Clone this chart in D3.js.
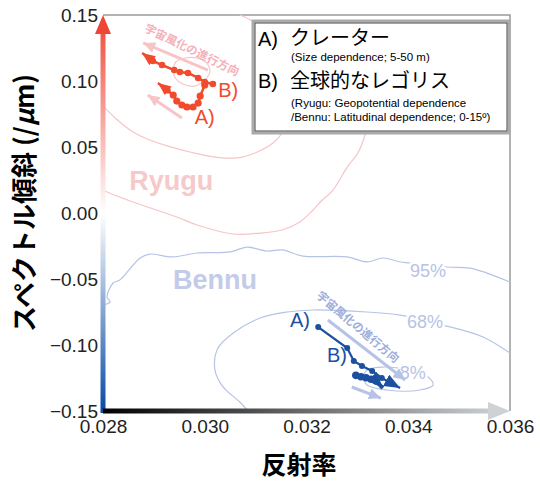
<!DOCTYPE html>
<html>
<head>
<meta charset="utf-8">
<script src="https://cdn.jsdelivr.net/npm/d3@7"></script>
<style>
  body { margin: 0; background: #fff; }
  svg { display: block; }
  text { font-family: "Liberation Sans", Arial, sans-serif; }
  .jp { font-family: "Noto Sans CJK JP", "Liberation Sans", sans-serif; }
</style>
</head>
<body>
<svg id="chart" width="540" height="483"></svg>
<script>
// tick values
var xTicks = [0.028, 0.030, 0.032, 0.034, 0.036];
var yTicks = [-0.15, -0.10, -0.05, 0.00, 0.05, 0.10, 0.15];

// trajectories [reflectance, slope]; last point = arrow tip
var ryuguA = [[0.03000,0.0970],[0.02991,0.0886],[0.02987,0.0833],[0.02977,0.0803],[0.02965,0.0803],
              [0.02955,0.0818],[0.02945,0.0848],[0.02938,0.0894],[0.02926,0.0932],[0.02908,0.0985]];
var ryuguB = [[0.03016,0.0977],[0.03000,0.0992],[0.02987,0.1023],[0.02967,0.1061],[0.02951,0.1068],
              [0.02940,0.1083],[0.02916,0.1121],[0.02898,0.1152],[0.02877,0.1212]];
var bennuA = [[0.03223,-0.0864],[0.03280,-0.1023],[0.03293,-0.1121],[0.03309,-0.1159],[0.03329,-0.1197],
              [0.03348,-0.1250],[0.03384,-0.1326]];
var bennuB = [[0.03297,-0.1230],[0.03307,-0.1240],[0.03317,-0.1248],[0.03327,-0.1260],[0.03337,-0.1272],
              [0.03350,-0.1326]];

// space weathering direction arrows
var ryuguWeather = [[[0.03006,0.1083],[0.02879,0.1288]], [[0.02955,0.0720],[0.02888,0.0894]]];
var bennuWeather = [[[0.03242,-0.0811],[0.03394,-0.1265]], [[0.03289,-0.1318],[0.03346,-0.1402]]];

// density contours
var ryugu95 = [[0.02800,0.0174],[0.02808,0.0159],[0.02859,0.0083],[0.02945,-0.0030],[0.02985,-0.0091],
               [0.03056,-0.0159],[0.03109,-0.0152],[0.03152,-0.0129],[0.03187,-0.0068],[0.03213,0.0023],
               [0.03227,0.0083],[0.03252,0.0174],[0.03280,0.0348],[0.03301,0.0455],[0.03315,0.0591],[0.03325,0.0780]];
var ryugu68 = [[0.02800,0.0811],[0.02824,0.0720],[0.02859,0.0614],[0.02892,0.0553],[0.02926,0.0508],
               [0.02971,0.0462],[0.03020,0.0424],[0.03063,0.0417],[0.03099,0.0455],[0.03134,0.0530],
               [0.03152,0.0606],[0.03172,0.0818],[0.03164,0.1121],[0.03128,0.1348],[0.03093,0.1455],[0.03069,0.1500]];
var ryugu8 = [[0.02938,0.1083],[0.02943,0.1144],[0.02961,0.1174],[0.02985,0.1174],[0.03004,0.1136],
              [0.03010,0.1068],[0.03000,0.1008],[0.02981,0.0962],[0.02957,0.0977],[0.02942,0.1023],[0.02938,0.1083]];
var bennu95 = [[0.02800,-0.0697],[0.02814,-0.0674],[0.02808,-0.0636],[0.02820,-0.0530],[0.02833,-0.0508],
               [0.02873,-0.0341],[0.02892,-0.0311],[0.02936,-0.0333],[0.02985,-0.0303],[0.03050,-0.0295],
               [0.03083,-0.0258],[0.03122,-0.0288],[0.03152,-0.0280],[0.03193,-0.0326],[0.03280,-0.0333],
               [0.03319,-0.0371],[0.03350,-0.0341],[0.03384,-0.0371],[0.03403,-0.0379],[0.03476,-0.0409],
               [0.03521,-0.0417],[0.03555,-0.0455],[0.03600,-0.0523]];
var bennu68 = [[0.03085,-0.1500],[0.03069,-0.1432],[0.03036,-0.1318],[0.03020,-0.1189],[0.03026,-0.1023],
               [0.03056,-0.0909],[0.03109,-0.0795],[0.03162,-0.0750],[0.03213,-0.0735],[0.03319,-0.0750],
               [0.03384,-0.0773],[0.03429,-0.0811],[0.03468,-0.0849],[0.03547,-0.0939],[0.03600,-0.1061]];
var bennu8 = [[0.03311,-0.1242],[0.03319,-0.1189],[0.03350,-0.1167],[0.03409,-0.1197],[0.03439,-0.1242],
              [0.03449,-0.1303],[0.03423,-0.1341],[0.03358,-0.1341],[0.03319,-0.1303],[0.03311,-0.1242]];

var contourLabels = [{t: "95%", p: [0.03439,-0.0439]}, {t: "68%", p: [0.03433,-0.0826]}, {t: "8%", p: [0.03409,-0.1212]}];

var red = "#ef4b2c", blue = "#1b4f9f";
var paleRed = "#f7c4c7", paleBlue = "#b6c3e6";

var svg = d3.select("#chart");

var x = d3.scaleLinear().domain([0.028, 0.036]).range([103, 510]);
var y = d3.scaleLinear().domain([-0.15, 0.15]).range([411, 15]);

var defs = svg.append("defs");

// axis gradients
var gy = defs.append("linearGradient").attr("id", "gy")
  .attr("gradientUnits", "userSpaceOnUse").attr("x1", 0).attr("x2", 0).attr("y1", y(0.15)).attr("y2", y(-0.15));
gy.append("stop").attr("offset", 0).attr("stop-color", "#ef4535");
gy.append("stop").attr("offset", 0.5).attr("stop-color", "#ffffff");
gy.append("stop").attr("offset", 1).attr("stop-color", "#0a4aa3");

var gx = defs.append("linearGradient").attr("id", "gx")
  .attr("gradientUnits", "userSpaceOnUse").attr("x1", x(0.028)).attr("x2", x(0.036)).attr("y1", 0).attr("y2", 0);
gx.append("stop").attr("offset", 0).attr("stop-color", "#000000");
gx.append("stop").attr("offset", 1).attr("stop-color", "#d3d6d9");

function marker(id, color, len, wid) {
  defs.append("marker").attr("id", id)
    .attr("markerUnits", "userSpaceOnUse")
    .attr("markerWidth", len).attr("markerHeight", wid)
    .attr("refX", len).attr("refY", wid / 2)
    .attr("orient", "auto")
    .append("path").attr("d", "M0,0 L" + len + "," + (wid / 2) + " L0," + wid + " Z").attr("fill", color);
}
marker("mRed", red, 13, 11);
marker("mBlue", blue, 16, 13);
marker("mPaleRed", paleRed, 12, 11);
marker("mPaleBlue", paleBlue, 12, 11);

var line = d3.line().x(function(d) { return x(d[0]); }).y(function(d) { return y(d[1]); });
var smooth = d3.line().x(function(d) { return x(d[0]); }).y(function(d) { return y(d[1]); })
  .curve(d3.curveCatmullRom.alpha(0.5));

// frame
svg.append("path")
  .attr("d", "M" + x(0.028) + "," + y(0.15) + "H" + x(0.036) + "V" + y(-0.15))
  .attr("fill", "none").attr("stroke", "#9a9a9a").attr("stroke-width", 1.5);

// contours
[ryugu95, ryugu68, ryugu8].forEach(function(c) {
  svg.append("path").attr("d", smooth(c)).attr("fill", "none").attr("stroke", paleRed).attr("stroke-width", 1.2);
});
[bennu95, bennu68, bennu8].forEach(function(c) {
  svg.append("path").attr("d", smooth(c)).attr("fill", "none").attr("stroke", paleBlue).attr("stroke-width", 1.2);
});

svg.selectAll(".clabel").data(contourLabels).enter().append("text")
  .attr("class", "clabel")
  .attr("x", function(d) { return x(d.p[0]); })
  .attr("y", function(d) { return y(d.p[1]); })
  .attr("dy", "0.35em")
  .attr("text-anchor", "middle")
  .attr("font-size", 18)
  .attr("fill", paleBlue)
  .attr("stroke", "#fff").attr("stroke-width", 5).attr("paint-order", "stroke")
  .text(function(d) { return d.t; });

// asteroid names
svg.append("text").attr("x", x(0.02934)).attr("y", y(0.0174))
  .attr("text-anchor", "middle").attr("font-size", 27).attr("font-weight", "bold")
  .attr("fill", "#f6c9ca").text("Ryugu");
svg.append("text").attr("x", x(0.03020)).attr("y", y(-0.0576))
  .attr("text-anchor", "middle").attr("font-size", 27).attr("font-weight", "bold")
  .attr("fill", "#c3cbe8").text("Bennu");

// legend box
var lg = svg.append("g");
lg.append("rect").attr("x", 253).attr("y", 21).attr("width", 256).attr("height", 112)
  .attr("fill", "#fff").attr("stroke", "#aaaaaa").attr("stroke-width", 3);
lg.append("rect").attr("x", 255).attr("y", 23).attr("width", 252).attr("height", 108)
  .attr("fill", "none").attr("stroke", "#444").attr("stroke-width", 1);
lg.append("text").attr("x", 258).attr("y", 46).attr("font-size", 20).text("A)");
lg.append("text").attr("class", "jp").attr("x", 290).attr("y", 45).attr("font-size", 20).text("クレーター");
lg.append("text").attr("x", 291).attr("y", 61).attr("font-size", 11.5).text("(Size dependence; 5-50 m)");
lg.append("text").attr("x", 258).attr("y", 88).attr("font-size", 20).text("B)");
lg.append("text").attr("class", "jp").attr("x", 290).attr("y", 88).attr("font-size", 20).text("全球的なレゴリス");
lg.append("text").attr("x", 291).attr("y", 107).attr("font-size", 11.5).text("(Ryugu: Geopotential dependence");
lg.append("text").attr("x", 291).attr("y", 121).attr("font-size", 11.5).text("/Bennu: Latitudinal dependence; 0-15º)");

// space weathering arrows + text
ryuguWeather.forEach(function(a) {
  svg.append("path").attr("d", line(a)).attr("stroke", paleRed).attr("stroke-width", 3)
    .attr("fill", "none").attr("marker-end", "url(#mPaleRed)");
});
bennuWeather.forEach(function(a) {
  svg.append("path").attr("d", line(a)).attr("stroke", paleBlue).attr("stroke-width", 3)
    .attr("fill", "none").attr("marker-end", "url(#mPaleBlue)");
});
svg.append("text").attr("class", "jp")
  .attr("transform", "translate(" + x(0.02975) + "," + y(0.1235) + ") rotate(26)")
  .attr("text-anchor", "middle").attr("dy", "0.35em").attr("font-size", 11.5).attr("font-weight", "bold")
  .attr("fill", "#f5b0b8").text("宇宙風化の進行方向");
svg.append("text").attr("class", "jp")
  .attr("transform", "translate(" + x(0.03301) + "," + y(-0.0864) + ") rotate(40)")
  .attr("text-anchor", "middle").attr("dy", "0.35em").attr("font-size", 11.5).attr("font-weight", "bold")
  .attr("fill", "#9eaedb").text("宇宙風化の進行方向");

// trajectories
function trajectory(data, color, mk, w, r) {
  svg.append("path").attr("d", line(data)).attr("stroke", color).attr("stroke-width", w)
    .attr("fill", "none").attr("marker-end", "url(#" + mk + ")");
  svg.selectAll(null).data(data.slice(0, -1)).enter().append("circle")
    .attr("cx", function(d) { return x(d[0]); })
    .attr("cy", function(d) { return y(d[1]); })
    .attr("r", r).attr("fill", color);
}
trajectory(ryuguA, red, "mRed", 2.5, 3.6);
trajectory(ryuguB, red, "mRed", 2.5, 3.3);
trajectory(bennuA, blue, "mBlue", 2.2, 3);
trajectory(bennuB, blue, "mBlue", 4, 3.8);

var trajLabels = [
  {t: "A)", p: [0.03000, 0.0727], c: red},
  {t: "B)", p: [0.03046, 0.0932], c: red},
  {t: "A)", p: [0.03187, -0.0811], c: blue},
  {t: "B)", p: [0.03260, -0.1076], c: blue}
];
svg.selectAll(".tlabel").data(trajLabels).enter().append("text")
  .attr("class", "tlabel")
  .attr("x", function(d) { return x(d.p[0]); })
  .attr("y", function(d) { return y(d.p[1]); })
  .attr("dy", "0.35em").attr("text-anchor", "middle")
  .attr("font-size", 20).attr("fill", function(d) { return d.c; })
  .text(function(d) { return d.t; });

// gradient axis arrows
svg.append("rect").attr("x", x(0.028) - 2.5).attr("y", y(0.15) + 16)
  .attr("width", 5).attr("height", y(-0.15) - y(0.15) - 14).attr("fill", "url(#gy)");
svg.append("path")
  .attr("d", "M" + x(0.028) + "," + y(0.15) + "l8,19h-16z").attr("fill", "#ef4535");
svg.append("rect").attr("x", x(0.028)).attr("y", y(-0.15) - 2.5)
  .attr("width", x(0.036) - x(0.028) - 20).attr("height", 5).attr("fill", "url(#gx)");
svg.append("path")
  .attr("d", "M" + x(0.036) + "," + y(-0.15) + "l-22,-9v18z").attr("fill", "#cfd2d5");

// tick labels
var yAxis = svg.append("g").attr("transform", "translate(" + x(0.028) + ",0)")
  .call(d3.axisLeft(y).tickValues(yTicks).tickSize(0).tickPadding(5).tickFormat(d3.format(".2f")));
var xAxis = svg.append("g").attr("transform", "translate(0," + y(-0.15) + ")")
  .call(d3.axisBottom(x).tickValues(xTicks).tickSize(0).tickPadding(9).tickFormat(d3.format(".3f")));
[yAxis, xAxis].forEach(function(g) {
  g.select(".domain").remove();
  g.selectAll("text").attr("font-family", "Liberation Sans, Arial, sans-serif")
    .attr("font-size", 19).attr("fill", "#222");
});

// axis titles
svg.append("text").attr("class", "jp")
  .attr("x", 299).attr("y", 474).attr("text-anchor", "middle")
  .attr("font-size", 25).attr("font-weight", "bold").text("反射率");
var yt = svg.append("text").attr("class", "jp")
  .attr("transform", "translate(34,203) rotate(-90)").attr("text-anchor", "middle")
  .attr("font-size", 26).attr("font-weight", "bold");
yt.append("tspan").text("スペクトル傾斜 (/");
yt.append("tspan").attr("font-style", "italic").text("μ");
yt.append("tspan").text("m)");
</script>
</body>
</html>
